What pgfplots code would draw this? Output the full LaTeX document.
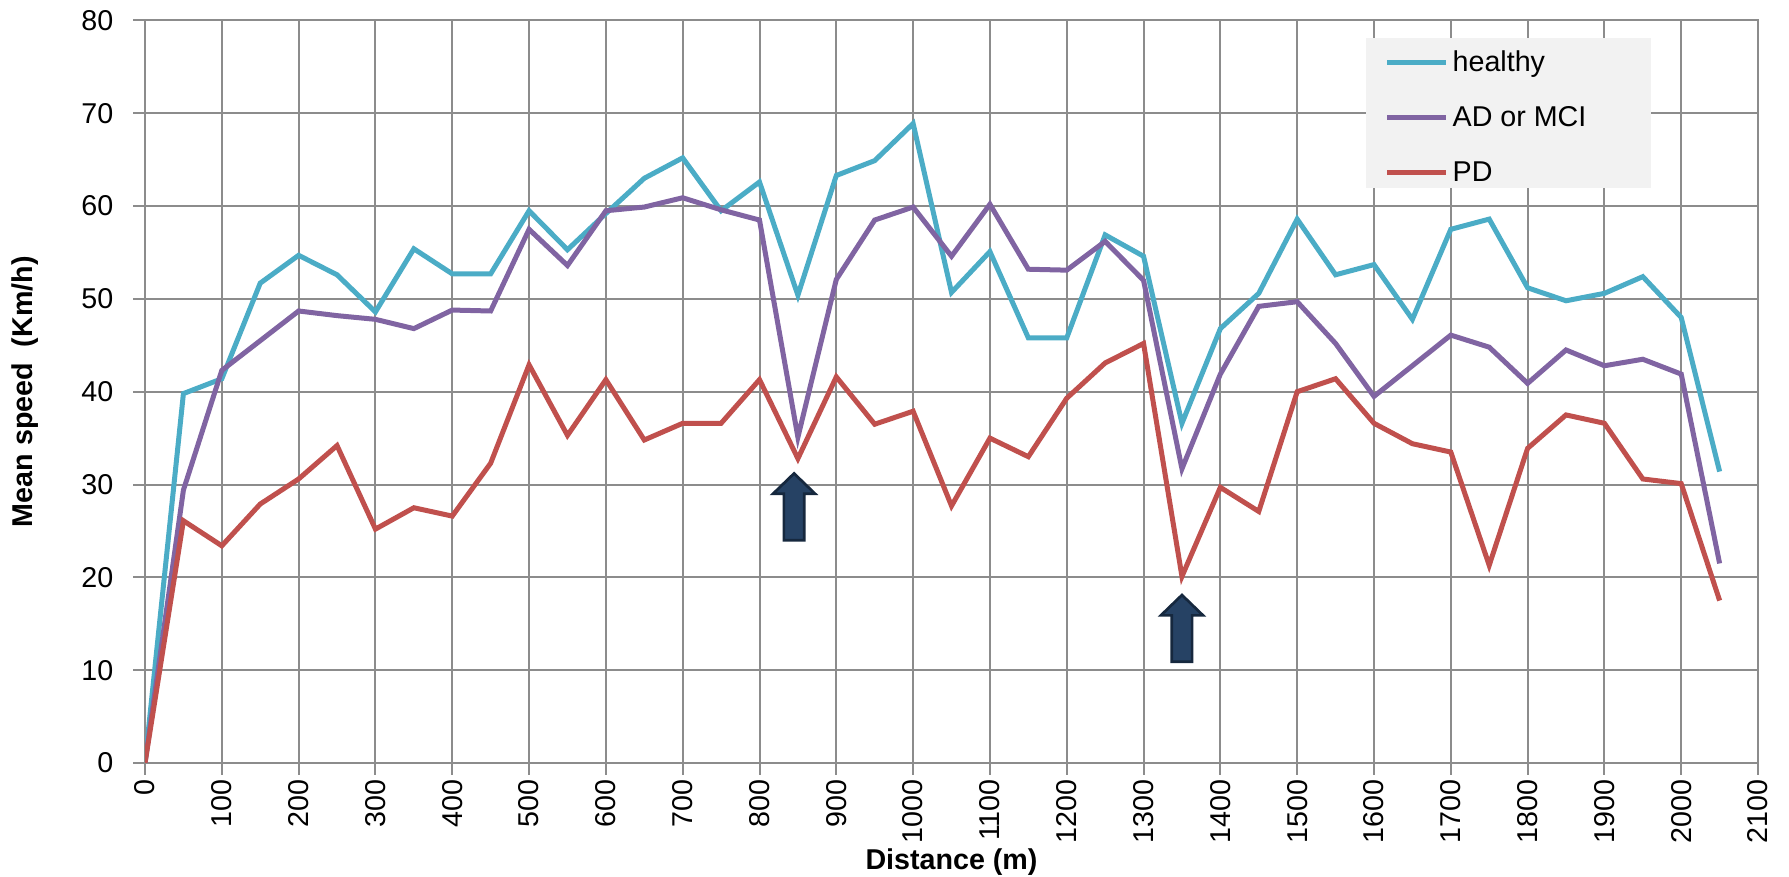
\documentclass[border=0pt]{standalone}
\usepackage{fontspec}
\setmainfont{Liberation Sans}
\usepackage{pgfplots}
\usepackage{pgfplotstable}
\pgfplotsset{compat=1.18}
\definecolor{chealthy}{RGB}{75,172,198}
\definecolor{cad}{RGB}{128,100,162}
\definecolor{cpd}{RGB}{192,80,77}
\definecolor{gridgray}{RGB}{140,140,140}
\definecolor{leggray}{RGB}{242,242,242}
\definecolor{arrowfill}{RGB}{38,66,100}
\definecolor{arrowdraw}{RGB}{22,40,62}

\pgfplotstableread{
x healthy ad pd
0 0 0 0
50 39.8 29.4 26.1
100 41.4 42.3 23.4
150 51.7 45.5 27.9
200 54.7 48.7 30.6
250 52.6 48.2 34.2
300 48.6 47.8 25.2
350 55.4 46.8 27.5
400 52.7 48.8 26.6
450 52.7 48.7 32.3
500 59.5 57.5 42.9
550 55.3 53.6 35.3
600 59.2 59.5 41.3
650 63.0 59.9 34.8
700 65.2 60.9 36.6
750 59.5 59.6 36.6
800 62.6 58.5 41.3
850 50.4 35.1 32.8
900 63.3 52.1 41.6
950 64.9 58.5 36.5
1000 68.9 59.9 37.9
1050 50.7 54.6 27.7
1100 55.1 60.2 35.0
1150 45.8 53.2 33.0
1200 45.8 53.1 39.3
1250 56.9 56.2 43.1
1300 54.6 52.0 45.2
1350 36.6 31.7 20.1
1400 46.8 41.9 29.7
1450 50.6 49.2 27.1
1500 58.6 49.7 40.0
1550 52.6 45.2 41.4
1600 53.7 39.5 36.6
1650 47.8 42.8 34.4
1700 57.5 46.1 33.5
1750 58.6 44.8 21.3
1800 51.2 40.9 33.9
1850 49.8 44.5 37.5
1900 50.6 42.8 36.6
1950 52.4 43.5 30.6
2000 48.0 41.9 30.1
2050 31.4 21.5 17.5
}\speeddata

\begin{document}
\begin{tikzpicture}[font=\fontsize{8.6}{10}\selectfont]
\begin{axis}[
  scale only axis, width=483.9pt, height=222.75pt,
  xmin=0, xmax=2100, ymin=0, ymax=80,
  xtick distance=100, ytick distance=10,
  grid=major,
  major grid style={gridgray, line width=0.6pt},
  axis line style={gridgray, line width=0.6pt},
  tick style={gridgray, line width=0.6pt},
  major tick length=3.5pt, tick align=outside,
  xtick pos=bottom, ytick pos=left,
  x tick label style={rotate=90, anchor=east, inner sep=1.2pt},
  y tick label style={xshift=-2.5pt},
  /pgf/number format/assume math mode=true,
  /pgf/number format/1000 sep={},
  xlabel={\bfseries Distance (m)},
  ylabel={\bfseries Mean speed~~(Km/h)},
  xlabel style={at={(axis description cs:0.5,-0.134)}, anchor=center},
  ylabel style={at={(axis description cs:-0.0744,0.5)}, anchor=center},
  legend cell align=left,
  legend style={at={(rel axis cs:0.7681,1)}, anchor=north west, yshift=-8.9pt,
    draw=none, fill=none, inner sep=0pt, row sep=8.5pt, column sep=1.2pt,
    nodes={inner sep=0pt, text height=6.2pt, text depth=1.8pt}},
  legend image code/.code={\draw[#1, line width=1.5pt] (0pt,0.6pt) -- (17.7pt,0.6pt);},
]
\fill[leggray] (axis description cs:0.757,0.9764) rectangle (axis description cs:0.9337,0.7744);
\addplot[chealthy, line width=1.5pt] table[x=x, y=healthy] {\speeddata};
\addlegendentry{healthy}
\addplot[cad, line width=1.5pt] table[x=x, y=ad] {\speeddata};
\addlegendentry{AD or MCI}
\addplot[cpd, line width=1.5pt] table[x=x, y=pd] {\speeddata};
\addlegendentry{PD}
\filldraw[fill=arrowfill, draw=arrowdraw, line width=0.8pt]
  (axis cs:831.75,24.0) -- (axis cs:831.75,29.0) -- (axis cs:817.5,29.0) -- (axis cs:845,31.2)
  -- (axis cs:872.5,29.0) -- (axis cs:858.25,29.0) -- (axis cs:858.25,24.0) -- cycle;
\filldraw[fill=arrowfill, draw=arrowdraw, line width=0.8pt]
  (axis cs:1336.75,10.9) -- (axis cs:1336.75,15.9) -- (axis cs:1322.5,15.9) -- (axis cs:1350,18.1)
  -- (axis cs:1377.5,15.9) -- (axis cs:1363.25,15.9) -- (axis cs:1363.25,10.9) -- cycle;
\coordinate (bbA) at (axis description cs:-0.0899,-0.1535);
\coordinate (bbB) at (axis description cs:1.0192,1.0276);
\end{axis}
\pgfresetboundingbox
\path (bbA) rectangle (bbB);
\end{tikzpicture}
\end{document}
